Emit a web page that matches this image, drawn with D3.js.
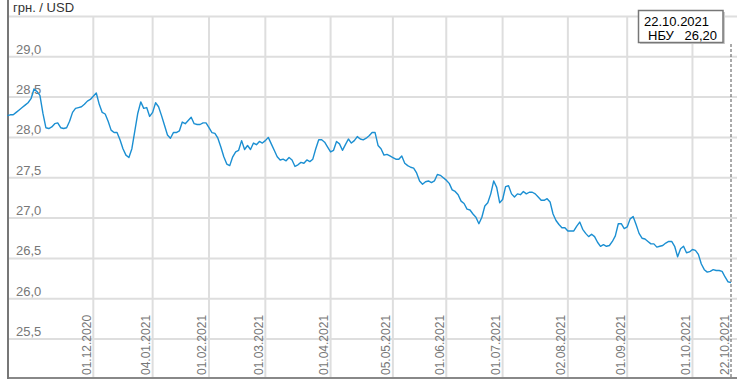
<!DOCTYPE html>
<html><head><meta charset="utf-8">
<script src="https://cdn.jsdelivr.net/npm/d3@7/dist/d3.min.js"></script>
<style>
html,body{margin:0;padding:0;background:#fff;}
svg{display:block;font-family:"Liberation Sans",Arial,sans-serif;}
</style></head>
<body>
<script>
// NBU official rate, UAH per USD, one value per trading day
const rates = [
28.27,28.28,28.28,28.31,28.34,28.37,28.40,28.43,28.48,28.60,
28.57,28.52,28.30,28.12,28.11,28.13,28.17,28.18,28.12,28.11,
28.12,28.20,28.31,28.36,28.37,28.38,28.41,28.45,28.47,28.51,
28.55,28.41,28.31,28.29,28.20,28.09,28.06,28.06,27.97,27.86,
27.78,27.75,27.86,28.08,28.30,28.44,28.36,28.37,28.26,28.31,
28.43,28.38,28.27,28.15,28.03,27.99,28.06,28.06,28.08,28.19,
28.17,28.21,28.25,28.17,28.16,28.16,28.18,28.18,28.12,28.06,
28.05,27.99,27.88,27.76,27.67,27.65,27.76,27.82,27.84,27.96,
27.85,27.90,27.85,27.93,27.91,27.95,27.93,27.96,28.00,27.92,
27.84,27.76,27.72,27.73,27.71,27.75,27.72,27.64,27.66,27.69,
27.68,27.72,27.70,27.73,27.86,27.97,27.97,27.94,27.88,27.82,
27.84,27.95,27.92,27.84,27.91,27.98,27.93,27.96,28.01,27.98,
27.97,27.99,28.02,28.06,28.06,27.90,27.86,27.78,27.79,27.77,
27.75,27.73,27.73,27.77,27.68,27.65,27.63,27.62,27.56,27.46,
27.42,27.45,27.46,27.44,27.46,27.54,27.53,27.50,27.47,27.43,
27.35,27.33,27.29,27.21,27.18,27.11,27.10,27.05,27.01,26.93,
27.01,27.15,27.19,27.30,27.46,27.38,27.19,27.23,27.39,27.40,
27.30,27.26,27.30,27.29,27.33,27.30,27.32,27.32,27.30,27.26,
27.22,27.22,27.24,27.20,27.05,26.97,26.92,26.88,26.88,26.84,
26.84,26.84,26.90,26.95,26.86,26.81,26.77,26.80,26.77,26.70,
26.65,26.67,26.65,26.66,26.71,26.78,26.93,26.93,26.87,26.89,
26.99,27.02,26.92,26.81,26.75,26.74,26.71,26.68,26.68,26.64,
26.65,26.66,26.69,26.71,26.71,26.65,26.52,26.62,26.65,26.57,
26.58,26.61,26.60,26.55,26.43,26.36,26.33,26.34,26.36,26.35,
26.35,26.34,26.27,26.21,26.20
];
const tickLabels = ["01.12.2020","04.01.2021","01.02.2021","01.03.2021","01.04.2021","05.05.2021","01.06.2021","01.07.2021","02.08.2021","01.09.2021","01.10.2021","22.10.2021"];
const tickIndex = [29,49,68,87,109,130,148,167,189,209,231,244];
const yTicks = [25.5,26.0,26.5,27.0,27.5,28.0,28.5,29.0,29.5];
const unitLabel = "грн. / USD";
const tipDate = "22.10.2021";
const tipSource = "НБУ";
const tipValue = "26,20";

const W = 737, H = 386;
const svg = d3.select("body").append("svg").attr("width", W).attr("height", H);

const x = d3.scaleLinear().domain([0, rates.length - 1]).range([7.3, 731]);
const y = d3.scaleLinear().domain([25.0, 29.5]).range([379.4, 16.4]);
const fmt = v => d3.format(".1f")(v).replace(".", ",");

// horizontal grid
svg.append("g").selectAll("line").data(yTicks).join("line")
  .attr("x1", 8).attr("x2", W)
  .attr("y1", d => y(d)).attr("y2", d => y(d))
  .attr("stroke", "#dedede").attr("stroke-width", 2);

// vertical grid
svg.append("g").selectAll("line").data(tickIndex.slice(0, -1)).join("line")
  .attr("x1", d => x(d)).attr("x2", d => x(d))
  .attr("y1", y(29.5)).attr("y2", 378)
  .attr("stroke", "#dedede").attr("stroke-width", 2);

// y labels (above their gridlines)
svg.append("g").selectAll("text").data(yTicks.filter(d => d < 29.5)).join("text")
  .attr("x", 16).attr("y", d => y(d) - 3)
  .attr("fill", "#777").attr("font-size", 13)
  .text(d => fmt(d));

// x labels, rotated
svg.append("g").selectAll("text").data(tickIndex).join("text")
  .attr("transform", (d, i) => `translate(${x(d) - 2.5},375) rotate(-90)`)
  .attr("fill", "#777").attr("font-size", 12)
  .text((d, i) => tickLabels[i]);

// axes borders
svg.append("line").attr("x1", 8).attr("x2", W).attr("y1", 378).attr("y2", 378)
  .attr("stroke", "#888").attr("stroke-width", 2);
svg.append("line").attr("x1", 8).attr("x2", 8).attr("y1", 0).attr("y2", 379)
  .attr("stroke", "#777").attr("stroke-width", 2);

// unit label
svg.append("text").attr("x", 13).attr("y", 12).attr("font-size", 13).attr("fill", "#333").text(unitLabel);

// data line
svg.append("path").datum(rates)
  .attr("d", d3.line().x((d, i) => x(i)).y(d => y(d)))
  .attr("fill", "none").attr("stroke", "#1b8fd2").attr("stroke-width", 1.4)
  .attr("stroke-linejoin", "round");

// cursor line
const last = tickIndex[tickIndex.length - 1];
svg.append("line").attr("x1", x(last)).attr("x2", x(last)).attr("y1", 44).attr("y2", 378)
  .attr("stroke", "#555").attr("stroke-width", 1).attr("stroke-dasharray", "3,2");

// tooltip box
const tip = svg.append("g");
tip.append("rect").attr("x", 640).attr("y", 12).attr("width", 85).attr("height", 32)
  .attr("fill", "#ccc");
tip.append("rect").attr("x", 638.5).attr("y", 10.5).attr("width", 84.5).attr("height", 32)
  .attr("fill", "#fff").attr("stroke", "#777").attr("stroke-width", 1.5);
tip.append("text").attr("x", 644).attr("y", 26).attr("font-size", 13).attr("fill", "#000").text(tipDate);
tip.append("text").attr("x", 648).attr("y", 40).attr("font-size", 13).attr("fill", "#000").text(tipSource);
tip.append("text").attr("x", 717).attr("y", 40).attr("font-size", 13).attr("fill", "#000")
  .attr("text-anchor", "end").text(tipValue);
</script>
</body></html>
